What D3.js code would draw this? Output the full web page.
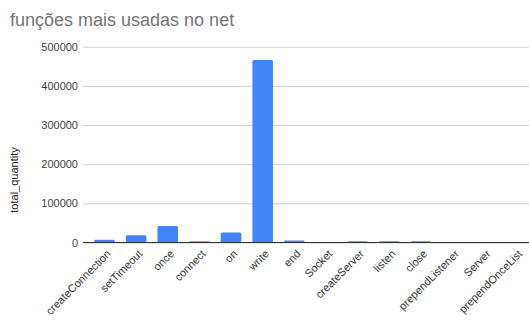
<!DOCTYPE html>
<html>
<head>
<meta charset="utf-8">
<script src="https://cdn.jsdelivr.net/npm/d3@7/dist/d3.min.js"></script>
<style>
  html, body { margin: 0; padding: 0; background: #fff; }
  svg { display: block; font-family: "Liberation Sans", Arial, sans-serif; }
</style>
</head>
<body>
<svg id="chart" width="529" height="322"></svg>
<script>
// Calls per function of the net module
const functions = [
  "createConnection", "setTimeout", "once", "connect", "on", "write", "end",
  "Socket", "createServer", "listen", "close", "prependListener", "Server", "prependOnceList"
];
const totalQuantity = [
  7000, 18700, 42000, 3000, 25500, 466000, 5000,
  300, 3000, 3000, 3000, 100, 100, 100
];
const yTicks = [0, 100000, 200000, 300000, 400000, 500000];

const titleText = "funções mais usadas no net";
const yTitle = "total_quantity";

const svg = d3.select("#chart");

const plotLeft = 83, plotRight = 529;
const baseY = 242.5, topY = 46.7;

const x = d3.scaleBand()
  .domain(functions)
  .range([88.6, 531.7])
  .paddingInner(0.35)
  .paddingOuter(0.175);

const y = d3.scaleLinear()
  .domain([0, 500000])
  .range([baseY, topY]);

// Title
svg.append("text")
  .attr("x", 10)
  .attr("y", 26)
  .attr("font-size", 18)
  .attr("fill", "#757575")
  .text(titleText);

// Horizontal gridlines with tick labels
const yAxis = d3.axisLeft(y)
  .tickValues(yTicks)
  .tickSize(-(plotRight - plotLeft))
  .tickPadding(5)
  .tickFormat(d3.format("d"));

const gy = svg.append("g")
  .attr("transform", `translate(${plotLeft},0)`)
  .call(yAxis);
gy.select(".domain").remove();
gy.selectAll(".tick line").attr("stroke", "#d0d0d0").attr("stroke-width", 1);
gy.selectAll(".tick text")
  .attr("font-size", 11)
  .attr("fill", "#444444")
  .attr("font-family", "Liberation Sans, Arial, sans-serif");

// Y axis title
svg.append("text")
  .attr("transform", `translate(18,180) rotate(-90)`)
  .attr("text-anchor", "middle")
  .attr("font-size", 11)
  .attr("fill", "#222222")
  .text(yTitle);

// Bars
svg.append("g")
  .selectAll("rect")
  .data(functions.map((f, i) => ({ f, v: totalQuantity[i] })))
  .join("rect")
  .attr("x", d => x(d.f))
  .attr("width", x.bandwidth())
  .attr("y", d => y(d.v))
  .attr("height", d => baseY - y(d.v))
  .attr("rx", 1.5)
  .attr("fill", "#4285f4");

// Baseline
svg.append("line")
  .attr("x1", plotLeft)
  .attr("x2", plotRight)
  .attr("y1", baseY)
  .attr("y2", baseY)
  .attr("stroke", "#333333")
  .attr("stroke-width", 1.2);

// Rotated category labels
const xAxis = d3.axisBottom(x).tickSize(0).tickPadding(0);
const gx = svg.append("g")
  .attr("transform", `translate(0,${baseY})`)
  .call(xAxis);
gx.select(".domain").remove();
gx.selectAll(".tick text")
  .attr("font-size", 11)
  .attr("fill", "#333333")
  .attr("font-family", "Liberation Sans, Arial, sans-serif")
  .attr("text-anchor", "end")
  .attr("dy", null)
  .attr("y", null)
  .attr("transform", "translate(7,12) rotate(-45)");
</script>
</body>
</html>
